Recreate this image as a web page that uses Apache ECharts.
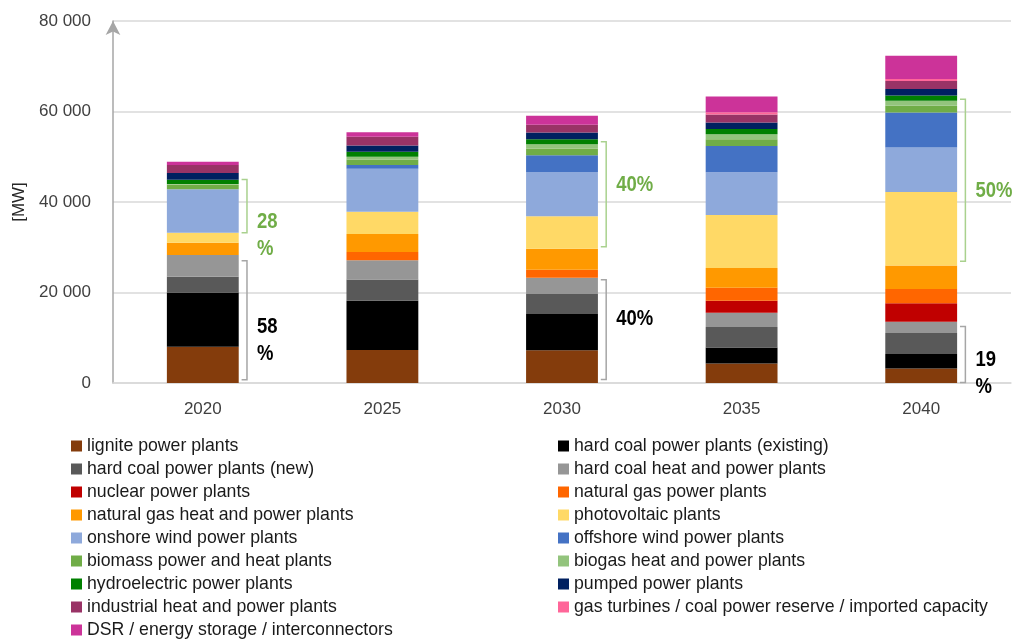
<!DOCTYPE html>
<html>
<head>
<meta charset="utf-8">
<script src="https://cdn.jsdelivr.net/npm/echarts@6/dist/echarts.min.js"></script>
<style>
html,body{margin:0;padding:0;background:#fff;}
#chart{width:1022px;height:639px;}
</style>
</head>
<body>
<div id="chart"></div>
<script>
// ---- data ----
const years = ['2020', '2025', '2030', '2035', '2040'];
const seriesNames = [
  'lignite power plants',
  'hard coal power plants (existing)',
  'hard coal power plants (new)',
  'hard coal heat and power plants',
  'nuclear power plants',
  'natural gas power plants',
  'natural gas heat and power plants',
  'photovoltaic plants',
  'onshore wind power plants',
  'offshore wind power plants',
  'biomass power and heat plants',
  'biogas heat and power plants',
  'hydroelectric power plants',
  'pumped power plants',
  'industrial heat and power plants',
  'gas turbines / coal power reserve / imported capacity',
  'DSR / energy storage / interconnectors'
];
const lignite     = [8000, 7300, 7250, 4300, 3200];
const hardCoalOld = [12000, 10900, 8000, 3550, 3200];
const hardCoalNew = [3500, 4650, 4400, 4500, 4650];
const hardCoalCHP = [4800, 4300, 3600, 3200, 2500];
const nuclear     = [0, 0, 0, 2600, 4050];
const gasPower    = [0, 1800, 1800, 2900, 3200];
const gasCHP      = [2700, 4000, 4600, 4350, 5150];
const photovoltaic= [2200, 4900, 7200, 11750, 16250];
const onshoreWind = [9600, 9500, 9800, 9450, 9850];
const offshoreWind= [0, 800, 3700, 5750, 7750];
const biomass     = [1000, 1250, 1500, 1500, 1450];
const biogas      = [200, 600, 900, 1100, 1100];
const hydro       = [900, 1100, 1100, 1200, 1200];
const pumped      = [1500, 1400, 1500, 1400, 1400];
const industrial  = [1800, 1900, 1700, 1800, 1800];
const gasTurbines = [0, 0, 0, 500, 450];
const dsr         = [700, 1000, 2000, 3450, 5100];
const seriesValues = [lignite, hardCoalOld, hardCoalNew, hardCoalCHP, nuclear, gasPower, gasCHP,
  photovoltaic, onshoreWind, offshoreWind, biomass, biogas, hydro, pumped, industrial, gasTurbines, dsr];
const seriesColors = ['#843C0C', '#000000', '#595959', '#969696', '#C00000', '#FF6600', '#FF9900',
  '#FFD966', '#8EA9DB', '#4472C4', '#70AD47', '#93C47D', '#008000', '#002060', '#993366', '#FF6699', '#CC3399'];
const yTickLabels = ['0', '20 000', '40 000', '60 000', '80 000'];

// share brackets (annotations)
const bracketYears = ['2020', '2020', '2030', '2030', '2040', '2040'];
const bracketLow   = [33200, 700, 30100, 800, 26900, 100];
const bracketHigh  = [45000, 27000, 53300, 22800, 62700, 12500];
const bracketTextAt= [32600, 9500, 43700, 14200, 42400, 2200];
const bracketText  = ['28\n%', '58\n%', '40%', '40%', '50%', '19\n%'];
const bracketGreen = [true, false, true, false, true, false];

// ---- chart ----
const chart = echarts.init(document.getElementById('chart'));
const barSeries = seriesNames.map((name, i) => ({
  name: name,
  type: 'bar',
  stack: 'total',
  barWidth: '40%',
  itemStyle: { color: seriesColors[i] },
  emphasis: { disabled: true },
  data: seriesValues[i]
}));

const bracketSeries = {
  type: 'custom',
  name: 'brackets',
  silent: true,
  z: 10,
  data: bracketYears.map((y, i) => [years.indexOf(y), bracketLow[i], bracketHigh[i], bracketTextAt[i]]),
  renderItem: function (params, api) {
    const idx = params.dataIndex;
    const cat = api.value(0);
    const pLo = api.coord([cat, api.value(1)]);
    const pHi = api.coord([cat, api.value(2)]);
    const pT = api.coord([cat, api.value(3)]);
    const w = api.size([1, 0])[0];
    const x = pLo[0] + w * 0.246;
    const tick = w * 0.03;
    const green = bracketGreen[idx];
    return {
      type: 'group',
      children: [
        {
          type: 'polyline',
          shape: { points: [[x - tick, pHi[1]], [x, pHi[1]], [x, pLo[1]], [x - tick, pLo[1]]] },
          style: { stroke: green ? '#A9D18E' : '#A6A6A6', fill: null, lineWidth: 1.5 }
        },
        {
          type: 'text',
          x: pLo[0] + w * 0.302,
          y: pT[1],
          scaleX: 0.84,
          style: {
            text: bracketText[idx],
            fill: green ? '#70AD47' : '#000000',
            fontFamily: "'Liberation Sans', sans-serif",
            fontSize: 22,
            fontWeight: 'bold',
            lineHeight: 27,
            align: 'left',
            verticalAlign: 'middle'
          }
        }
      ]
    };
  }
};

const legendText = { fontFamily: "'Liberation Sans', Arial, sans-serif", fontSize: 17.7, color: '#1a1a1a', lineHeight: 18 };
const option = {
  animation: false,
  backgroundColor: '#ffffff',
  textStyle: { fontFamily: "'Liberation Sans', Arial, sans-serif" },
  grid: { left: 113, right: 11, top: 21, bottom: 256, containLabel: false },
  legend: [
    {
      orient: 'vertical', left: 66, top: 432, height: 230, itemGap: 5,
      icon: 'rect', itemWidth: 11, itemHeight: 11,
      selectedMode: false,
      textStyle: legendText,
      data: seriesNames.filter((_, i) => i % 2 === 0)
    },
    {
      orient: 'vertical', left: 553, top: 432, height: 230, itemGap: 5,
      icon: 'rect', itemWidth: 11, itemHeight: 11,
      selectedMode: false,
      textStyle: legendText,
      data: seriesNames.filter((_, i) => i % 2 === 1)
    }
  ],
  xAxis: {
    type: 'category',
    data: years,
    axisTick: { show: false },
    axisLine: { lineStyle: { color: '#D9D9D9', width: 1.5 } },
    axisLabel: { color: '#404040', fontSize: 17, margin: 18 }
  },
  yAxis: {
    type: 'value',
    min: 0, max: 80000, interval: 20000,
    name: '[MW]',
    nameLocation: 'middle',
    nameGap: 80,
    nameTextStyle: { color: '#262626', fontSize: 17 },
    axisLine: {
      show: true,
      symbol: ['none', 'arrow'],
      symbolSize: [11, 14],
      lineStyle: { color: '#A6A6A6', width: 1.5 }
    },
    axisTick: { show: false },
    splitLine: { lineStyle: { color: '#D9D9D9', width: 1.5 } },
    axisLabel: {
      color: '#404040', fontSize: 17, margin: 22,
      formatter: v => yTickLabels[Math.round(v / 20000)]
    }
  },
  series: barSeries.concat([bracketSeries])
};
chart.setOption(option);
</script>
</body>
</html>
